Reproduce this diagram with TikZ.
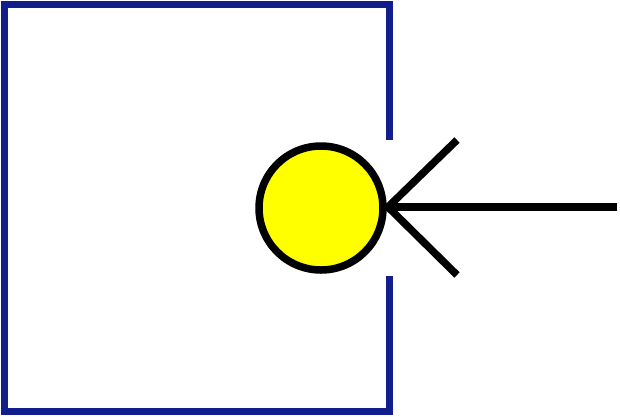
\documentclass[tikz,border=0pt]{standalone}
\usetikzlibrary{calc}
\definecolor{frameblue}{RGB}{18,30,140}
\definecolor{ballyellow}{RGB}{255,255,0}
\tikzset{
  frame/.style={draw=frameblue,line width=7pt},
  ball/.style={circle,draw=black,fill=ballyellow,line width=7.5pt,minimum size=124pt,inner sep=0pt},
  ray/.style={draw=black,line width=7.5pt}
}
\begin{document}
\begin{tikzpicture}[x=1pt,y=-1pt]
\useasboundingbox (0,0) rectangle (620,416);
\coordinate (gt) at (389.5,140);
\coordinate (gb) at (389.5,276);
\draw[frame] (gt) -- (389.5,4.5) -- (4.5,4.5) -- (4.5,411.5) -- (389.5,411.5) -- (gb);
\node[ball] (b) at (321,208) {};
\coordinate (tip) at (388,207);
\coordinate (e) at (617,207);
\coordinate (u) at (457,140);
\coordinate (d) at (457,275);
\draw[ray] (tip) -- (e);
\draw[ray] (u) -- (tip) -- (d);
\end{tikzpicture}
\end{document}
